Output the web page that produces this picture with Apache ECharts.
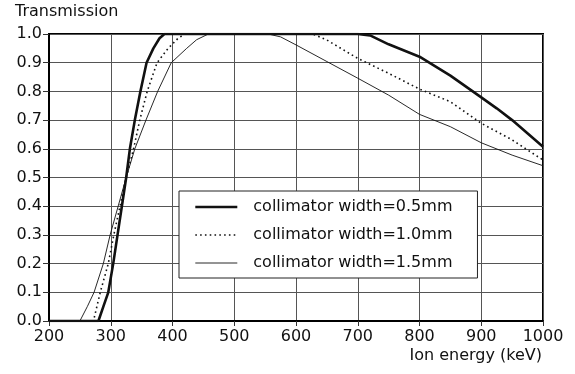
<!DOCTYPE html>
<html>
<head>
<meta charset="utf-8">
<script src="https://cdn.jsdelivr.net/npm/echarts@6/dist/echarts.min.js"></script>
<style>
html,body{margin:0;padding:0;background:#fff;}
#chart{width:575px;height:374px;}
</style>
</head>
<body>
<div id="chart"></div>
<script>
// Tick labels / axis values
var xTicksMin = 200, xTicksMax = 1000, xTickStep = 100;
var yTicksMin = 0, yTicksMax = 1, yTickStep = 0.1;

var seriesNames = ['collimator width=0.5mm', 'collimator width=1.0mm', 'collimator width=1.5mm'];

// collimator width = 0.5 mm
var energy05 = [200, 280, 288, 296, 304, 311, 318, 325, 331, 339, 348, 358, 369, 379, 387, 700, 720, 750, 800, 850, 900, 925, 950, 1000];
var trans05  = [0, 0, 0.05, 0.1, 0.2, 0.3, 0.4, 0.5, 0.6, 0.7, 0.8, 0.9, 0.95, 0.985, 1.0, 1.0, 0.995, 0.964, 0.921, 0.855, 0.779, 0.741, 0.70, 0.607];

// collimator width = 1.0 mm
var energy10 = [200, 272, 283, 296, 305, 315, 325, 337, 347, 359, 375, 393, 409, 420, 627, 650, 700, 750, 800, 850, 900, 950, 1000];
var trans10  = [0, 0, 0.1, 0.2, 0.3, 0.4, 0.5, 0.6, 0.7, 0.8, 0.9, 0.95, 0.985, 1.0, 1.0, 0.979, 0.915, 0.863, 0.808, 0.764, 0.689, 0.631, 0.561];

// collimator width = 1.5 mm
var energy15 = [200, 250, 262, 273, 288, 299, 312, 325, 339, 357, 376, 398, 423, 439, 458, 555, 575, 600, 650, 700, 750, 800, 850, 900, 950, 1000];
var trans15  = [0, 0, 0.05, 0.1, 0.2, 0.3, 0.4, 0.5, 0.6, 0.7, 0.8, 0.9, 0.95, 0.98, 1.0, 1.0, 0.99, 0.962, 0.904, 0.846, 0.787, 0.72, 0.677, 0.621, 0.578, 0.541];

function pairs(xs, ys) { return xs.map(function (x, i) { return [x, ys[i]]; }); }

var FONT = 'DejaVu Sans';
var TXT = '#111';

var lineStyles = [
  {color: '#111', width: 2.6, type: 'solid'},
  {color: '#111', width: 1.6, type: [1.6, 3.2]},
  {color: '#111', width: 0.9, type: 'solid'}
];

var chart = echarts.init(document.getElementById('chart'), null, {renderer: 'canvas'});
chart.setOption({
  animation: false,
  backgroundColor: '#fff',
  textStyle: {fontFamily: FONT, color: TXT},
  title: [
    {text: 'Transmission', left: 15, top: 4, padding: 0,
     textStyle: {fontFamily: FONT, fontSize: 16, fontWeight: 'normal', color: TXT}}
  ],
  grid: {left: 49, right: 32, top: 34, bottom: 53, show: true, borderColor: '#000', borderWidth: 2, backgroundColor: 'transparent'},
  xAxis: {
    type: 'value', min: xTicksMin, max: xTicksMax, interval: xTickStep,
    name: 'Ion energy (keV)', nameLocation: 'end', nameGap: 0,
    nameTextStyle: {fontFamily: FONT, fontSize: 16, color: TXT, align: 'right', verticalAlign: 'top', padding: [27, 1, 0, 0]},
    axisLine: {show: true, onZero: false, lineStyle: {color: '#000', width: 2}},
    axisTick: {show: true, length: 5, lineStyle: {color: '#333', width: 1}},
    axisLabel: {margin: 8, fontFamily: FONT, fontSize: 16, color: TXT,
      formatter: function (v) { return String(v); }},
    splitLine: {show: true, lineStyle: {color: '#555', width: 1}}
  },
  yAxis: {
    type: 'value', min: yTicksMin, max: yTicksMax, interval: yTickStep,
    axisLine: {show: true, lineStyle: {color: '#000', width: 2}},
    axisTick: {show: true, length: 6, lineStyle: {color: '#333', width: 1}},
    axisLabel: {margin: 7, fontFamily: FONT, fontSize: 16, color: TXT,
      formatter: function (v) { return v.toFixed(1); }},
    splitLine: {show: true, lineStyle: {color: '#555', width: 1}}
  },
  legend: {
    orient: 'vertical', left: 179, top: 191,
    padding: [8, 25, 7, 15],
    itemWidth: 42, itemHeight: 14, itemGap: 12,
    backgroundColor: '#fff', borderColor: '#222', borderWidth: 1,
    itemStyle: {opacity: 0, color: 'transparent', borderWidth: 0},
    textStyle: {fontFamily: FONT, fontSize: 16, color: TXT, padding: [0, 0, 0, 11]},
    data: seriesNames.map(function (n, i) {
      return {name: n, lineStyle: {color: lineStyles[i].color, width: lineStyles[i].width, type: lineStyles[i].type, opacity: 1}};
    })
  },
  series: [
    {name: seriesNames[0], type: 'line', data: pairs(energy05, trans05), symbol: 'none', smooth: false, z: 5,
     lineStyle: lineStyles[0], itemStyle: {color: '#111'}},
    {name: seriesNames[1], type: 'line', data: pairs(energy10, trans10), symbol: 'none', smooth: false, z: 4,
     lineStyle: lineStyles[1], itemStyle: {color: '#111'}},
    {name: seriesNames[2], type: 'line', data: pairs(energy15, trans15), symbol: 'none', smooth: false, z: 3,
     lineStyle: lineStyles[2], itemStyle: {color: '#111'}}
  ]
});
</script>
</body>
</html>
